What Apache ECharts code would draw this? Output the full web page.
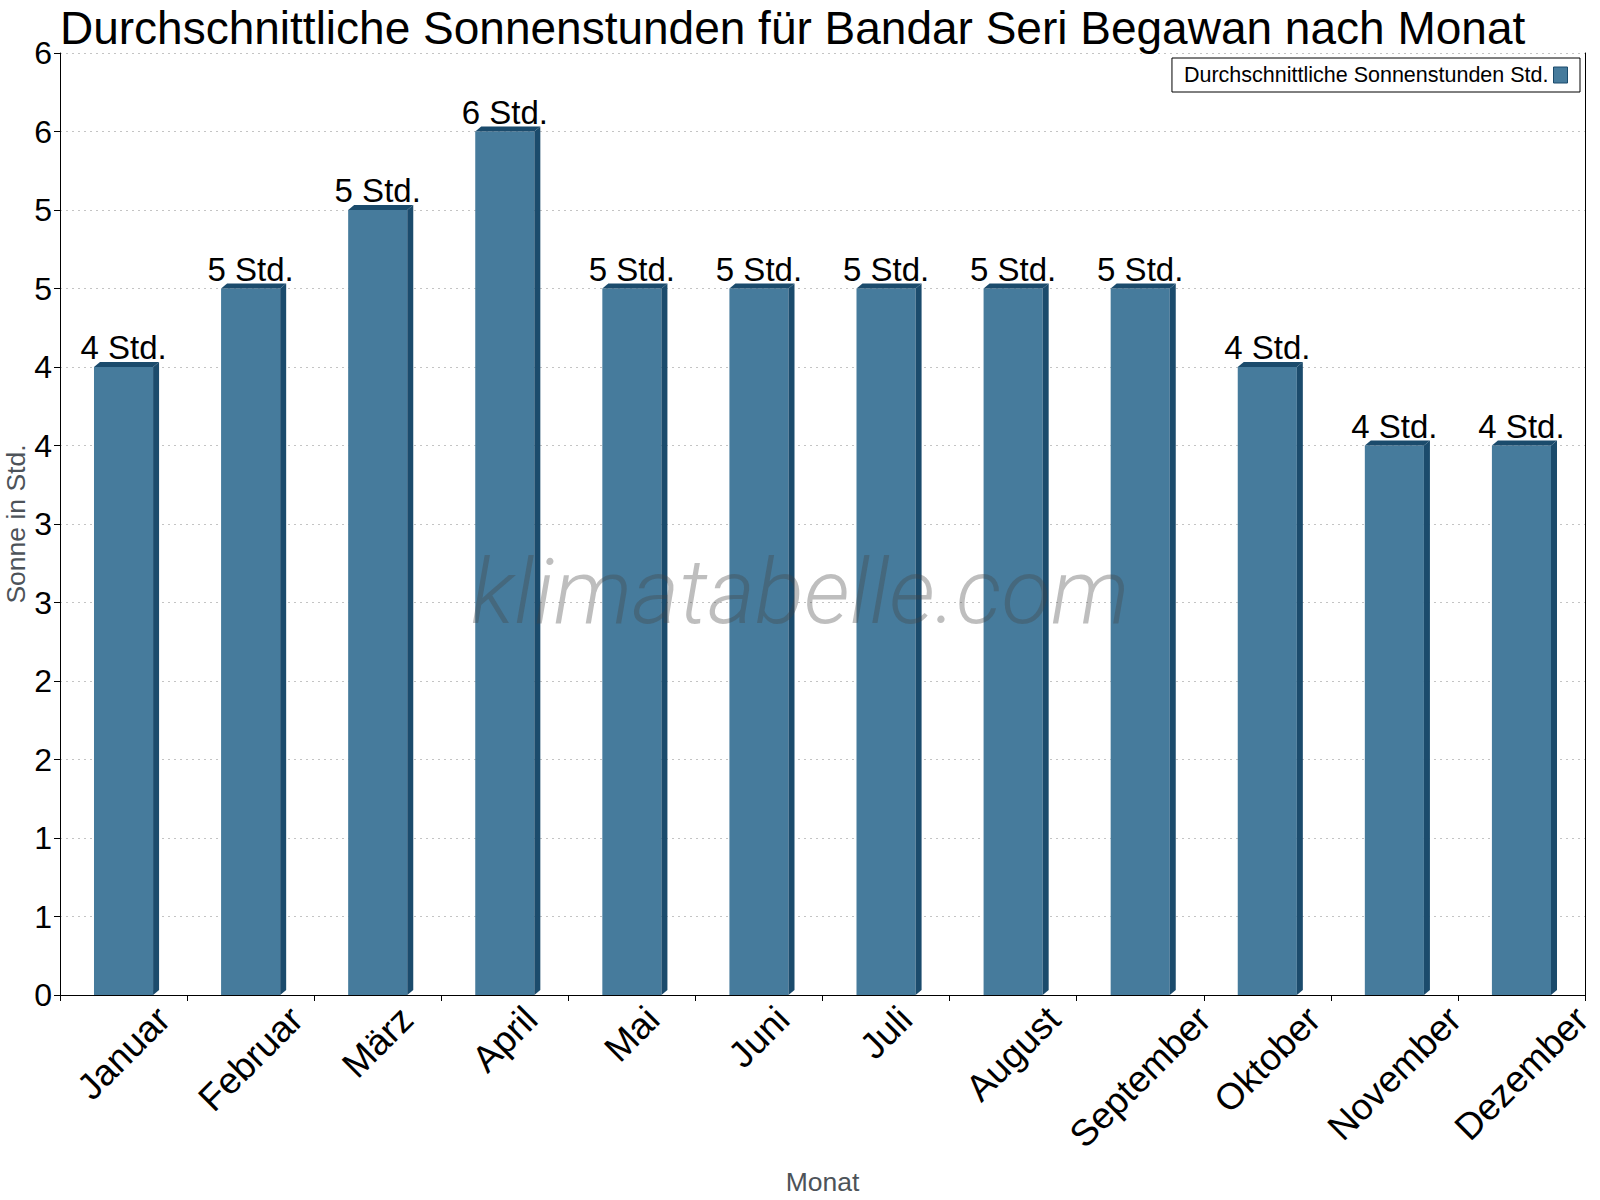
<!DOCTYPE html>
<html><head><meta charset="utf-8">
<script src="https://cdn.jsdelivr.net/npm/echarts@6/dist/echarts.min.js"></script>
<style>html,body{margin:0;padding:0;background:#fff}#c{width:1600px;height:1200px}</style>
</head><body><div id="c"></div>
<script>
const months = ['Januar','Februar','März','April','Mai','Juni','Juli','August','September','Oktober','November','Dezember'];
const sunHours = [4, 4.5, 5, 5.5, 4.5, 4.5, 4.5, 4.5, 4.5, 4, 3.5, 3.5];
const seriesName = 'Durchschnittliche Sonnenstunden Std.';
const titleText = 'Durchschnittliche Sonnenstunden für Bandar Seri Begawan nach Monat';

const FACE = '#467b9c', DARK = '#1b4b6c';
const font = '"Liberation Sans", Arial, sans-serif';
const XLAB_SIZE = 37;

const ctx = document.createElement('canvas').getContext('2d');
ctx.font = XLAB_SIZE + 'px ' + font;
const labelWidths = months.map(m => ctx.measureText(m).width);

const chart = echarts.init(document.getElementById('c'), null, {renderer: 'svg'});
chart.setOption({
  animation: false,
  backgroundColor: '#fff',
  textStyle: {fontFamily: font},
  title: {text: titleText, left: 60, top: 5, padding: 0, textStyle: {fontFamily: font, fontSize: 46, lineHeight: 46, fontWeight: 'normal', color: '#000'}},
  legend: {
    data: [seriesName], right: 20, top: 58, align: 'right', orient: 'horizontal', icon: 'rect',
    borderColor: '#000', borderWidth: 1, borderRadius: 0, padding: [6, 12, 6, 12],
    itemWidth: 14, itemHeight: 16, itemGap: 8,
    itemStyle: {color: FACE, borderColor: DARK, borderWidth: 1},
    textStyle: {fontFamily: font, fontSize: 21.5, color: '#000'}
  },
  grid: {left: 60, right: 15, top: 53, bottom: 205, outerBoundsMode: 'none', containLabel: false},
  xAxis: {
    type: 'category', data: months, boundaryGap: true,
    axisLine: {lineStyle: {color: '#000', width: 1}},
    axisTick: {show: true, length: 6, lineStyle: {color: '#000'}},
    axisLabel: {show: false},
    name: 'Monat', nameLocation: 'middle', nameGap: 174, nameMoveOverlap: false,
    nameTextStyle: {fontFamily: font, fontSize: 26.5, lineHeight: 26, color: '#4d5359'}
  },
  yAxis: [{
    type: 'value', min: 0, max: 6, interval: 0.5,
    axisLine: {show: true, lineStyle: {color: '#000'}},
    axisTick: {show: true, length: 6, lineStyle: {color: '#000'}},
    axisLabel: {fontSize: 32, color: '#000', fontFamily: font, margin: 8, formatter: v => String(Math.round(v))},
    splitLine: {show: true, lineStyle: {color: '#c4c4c4', type: [2, 4], width: 1}},
    name: 'Sonne in Std.', nameLocation: 'middle', nameGap: 31, nameMoveOverlap: false,
    nameTextStyle: {fontFamily: font, fontSize: 26.5, lineHeight: 26, color: '#4d5359'}
  }, {
    type: 'value', min: 0, max: 6, interval: 0.5, position: 'right',
    axisLine: {show: true, lineStyle: {color: '#000'}},
    axisTick: {show: false}, axisLabel: {show: false}, splitLine: {show: false}
  }],
  graphic: [{
    type: 'text', left: 'center', top: 546, silent: true, z: 100,
    style: {text: 'klimatabelle.com', font: 'italic 300 91px Roboto, "Open Sans", sans-serif', fill: 'rgba(70,70,70,0.35)'}
  }],
  series: [{
    name: seriesName, type: 'custom', xAxisIndex: 0, yAxisIndex: 0,
    itemStyle: {color: FACE},
    data: sunHours.map((v, i) => [i, v]),
    encode: {x: 0, y: 1},
    renderItem: (params, api) => {
      const idx = api.value(0), val = api.value(1);
      const top = api.coord([idx, val]);
      const base = api.coord([idx, 0]);
      const band = api.size([1, 0])[0];
      const w = band * 0.465;
      const dx = 6, dy = 5;
      const x0 = top[0] - w / 2, x1 = top[0] + w / 2, yT = top[1], yB = base[1];
      return {
        type: 'group',
        children: [
          {type: 'rect', shape: {x: x0, y: yT, width: w, height: yB - yT}, style: {fill: FACE}},
          {type: 'polygon', shape: {points: [[x0, yT], [x0 + dx, yT - dy], [x1 + dx, yT - dy], [x1, yT]]}, style: {fill: DARK}},
          {type: 'polygon', shape: {points: [[x1, yT], [x1 + dx, yT - dy], [x1 + dx, yB - dy], [x1, yB]]}, style: {fill: DARK}},
          {type: 'text', x: top[0], y: yT - 3, style: {text: Math.round(val) + ' Std.', font: '33px ' + font, fill: '#000', align: 'center', verticalAlign: 'bottom'}}
        ]
      };
    }
  }, {
    // month labels: rotated 45°, bounding box centred on each category, top-aligned under the axis
    type: 'custom', xAxisIndex: 0, yAxisIndex: 0, silent: true,
    data: months.map((m, i) => [i, 0]),
    encode: {x: 0, y: 1},
    renderItem: (params, api) => {
      const idx = api.value(0);
      const p = api.coord([idx, 0]);
      const L = labelWidths[idx], H = XLAB_SIZE;
      const half = (L + H) / (2 * Math.SQRT2);
      return {
        type: 'text', x: p[0], y: p[1] + 5 + half, rotation: Math.PI / 4,
        style: {text: months[idx], font: XLAB_SIZE + 'px ' + font, fill: '#000', align: 'center', verticalAlign: 'middle'}
      };
    }
  }]
});
</script></body></html>
